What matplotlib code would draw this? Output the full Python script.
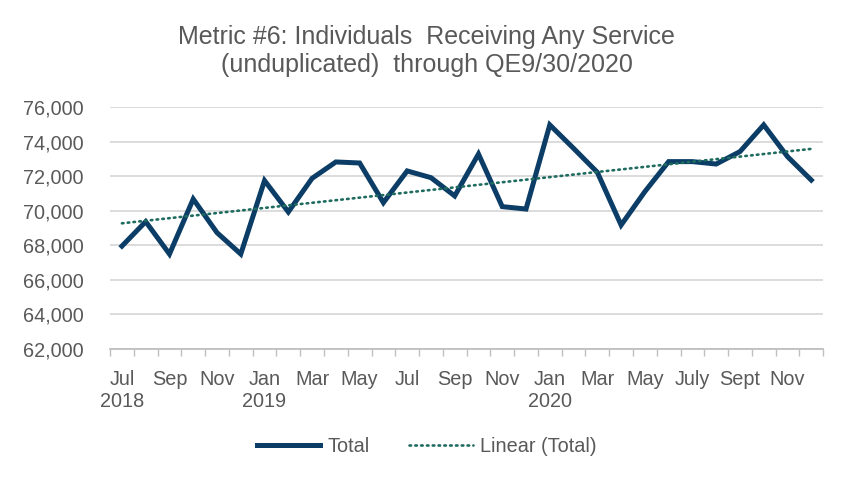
import numpy as np
import matplotlib.pyplot as plt

plt.rcParams['font.family'] = ['Liberation Sans', 'DejaVu Sans']

# monthly totals, Jul 2018 .. Dec 2020
months = ["Jul 2018", "Aug 2018", "Sep 2018", "Oct 2018", "Nov 2018", "Dec 2018",
          "Jan 2019", "Feb 2019", "Mar 2019", "Apr 2019", "May 2019", "Jun 2019",
          "Jul 2019", "Aug 2019", "Sep 2019", "Oct 2019", "Nov 2019", "Dec 2019",
          "Jan 2020", "Feb 2020", "Mar 2020", "Apr 2020", "May 2020", "Jun 2020",
          "Jul 2020", "Aug 2020", "Sep 2020", "Oct 2020", "Nov 2020", "Dec 2020"]
total = [67950, 69370, 67490, 70680, 68730, 67490,
         71750, 69930, 71880, 72830, 72770, 70470,
         72310, 71920, 70860, 73290, 70240, 70100,
         74980, 73620, 72230, 69170, 71110, 72850,
         72850, 72710, 73430, 74980, 73140, 71780]
tick_labels = ["Jul\n2018", "Sep", "Nov", "Jan\n2019", "Mar", "May", "Jul", "Sep",
               "Nov", "Jan\n2020", "Mar", "May", "July", "Sept", "Nov"]

navy = "#0b3d66"
teal = "#1e6b5f"
grey_txt = "#595959"

fig = plt.figure(figsize=(8.53, 4.79), dpi=100)
ax = fig.add_axes([0.129, 0.272, 0.836, 0.504])

x = np.arange(len(total))
ax.plot(x, total, color=navy, lw=3.6, solid_joinstyle='miter', label="Total", zorder=3)

# linear trendline like Excel
k, b = np.polyfit(x, total, 1)
ax.plot(x, k * x + b, color=teal, lw=1.9, linestyle=(0, (0.6, 1.6)),
        dash_capstyle='round', label="Linear (Total)", zorder=4)

ax.set_xlim(-0.5, len(total) - 0.5)
ax.set_ylim(62000, 76000)
ax.set_yticks(np.arange(62000, 76001, 2000))
ax.yaxis.set_major_formatter(plt.FuncFormatter(lambda v, p: f"{int(v):,}"))
ax.grid(axis='y', color='#d9d9d9', lw=1.3)
ax.set_axisbelow(True)

# ticks between categories, labels every other month
ax.set_xticks(np.arange(-0.5, len(total), 1))
ax.set_xticklabels([])
ax.set_xticks(x[::2], labels=tick_labels, minor=True)
for t in ax.get_xticklabels(minor=True):
    t.set_linespacing(1.25)
ax.tick_params(axis='x', which='major', length=5, color='#bfbfbf', width=1)
ax.tick_params(axis='x', which='minor', length=0, pad=15, labelsize=14.3, labelcolor=grey_txt)
ax.tick_params(axis='y', length=0, pad=19, labelsize=14.3, labelcolor=grey_txt)

for s in ['top', 'right', 'left']:
    ax.spines[s].set_visible(False)
ax.spines['bottom'].set_color('#bfbfbf')
ax.spines['bottom'].set_linewidth(1.3)

fig.suptitle("Metric #6: Individuals  Receiving Any Service\n(unduplicated)  through QE9/30/2020",
             y=0.947, fontsize=18, color=grey_txt, linespacing=1.2)

fig.legend(loc='center', bbox_to_anchor=(0.5, 0.068), ncol=2, frameon=False,
           fontsize=14.3, labelcolor=grey_txt, handlelength=3.2, columnspacing=2.0,
           handletextpad=0.35)

fig.savefig("out.png", dpi=100)
